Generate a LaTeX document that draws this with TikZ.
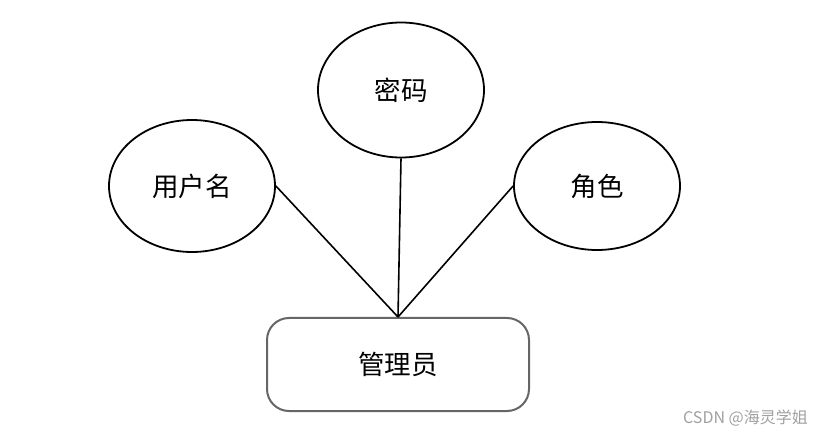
\documentclass[tikz,border=0pt]{standalone}
\usepackage{fontspec}
\usetikzlibrary{shapes.geometric}
\newfontfamily\cjk{Noto Sans CJK SC}
\definecolor{rectgray}{HTML}{666666}
\definecolor{wmgray}{HTML}{A0A0A0}
\begin{document}
\begin{tikzpicture}[x=1pt,y=-1pt,
  attr/.style={ellipse,draw=black,line width=1.8pt,inner sep=0pt,minimum width=166pt,font=\cjk\fontsize{26.5}{30}\selectfont},
  ent/.style={rectangle,rounded corners=22pt,draw=rectgray,line width=2pt,minimum width=262pt,minimum height=93pt,inner sep=0pt,font=\cjk\fontsize{26.5}{30}\selectfont},
  link/.style={line width=1.6pt,black}]
\useasboundingbox (0,0) rectangle (822,438);
\node[attr,minimum height=132pt] (yh) at (192,186) {用户名};
\node[attr,minimum height=135pt] (mm) at (401,90) {密码};
\node[attr,minimum height=128pt] (js) at (597,186) {角色};
\node[ent] (gly) at (398,364.5) {管理员};
\draw[link] (yh.east) -- (gly.north);
\draw[link] (mm.south) -- (gly.north);
\draw[link] (js.west) -- (gly.north);
\node[text=wmgray,font=\cjk\fontsize{16}{18}\selectfont,anchor=east,inner sep=0pt] (wm) at (808,418) {CSDN @海灵学姐};
\end{tikzpicture}
\end{document}
